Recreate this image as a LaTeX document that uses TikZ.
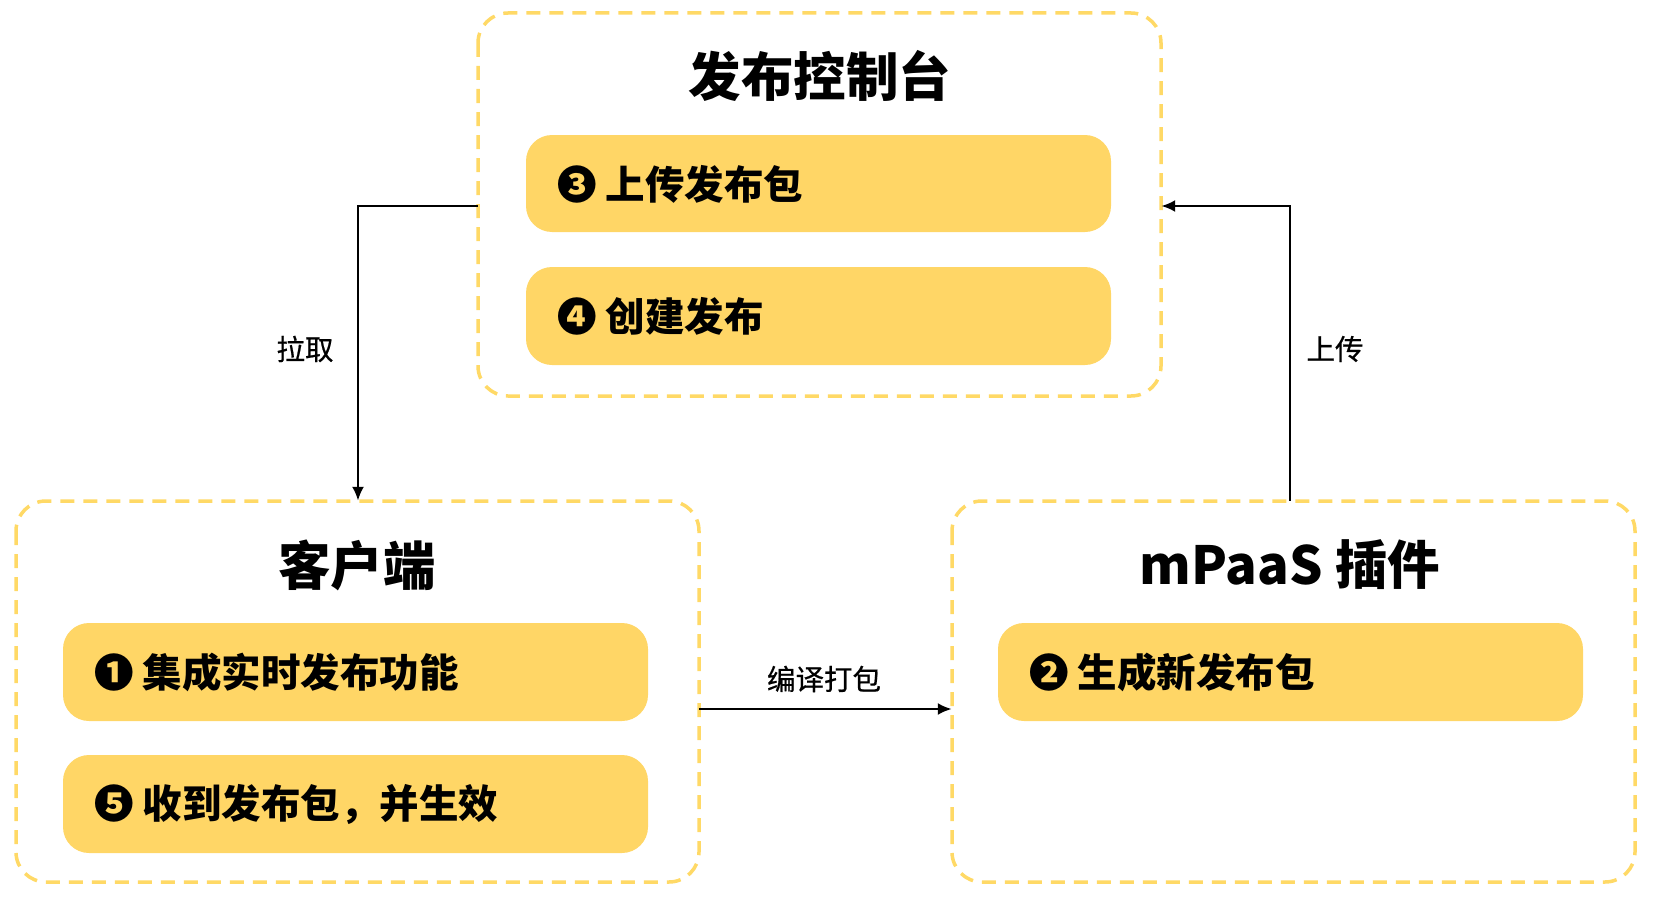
\documentclass[tikz,border=0pt]{standalone}
\usepackage{fontspec}
\setmainfont{Noto Sans CJK SC}
\newfontfamily\cjk{Noto Sans CJK SC}
\newfontfamily\cjklab{Noto Sans CJK SC}[FakeBold=0.6]
\usetikzlibrary{arrows.meta,positioning}
\definecolor{ygold}{HTML}{FFD666}
\definecolor{ydash}{HTML}{FFD966}
\tikzset{
  groupbox/.style={draw=ydash, line width=3.5pt, dash pattern=on 14pt off 9pt, rounded corners=30pt},
  itembox/.style={fill=ygold, rounded corners=26pt},
  titletxt/.style={font=\cjk\bfseries\fontsize{52.5pt}{58pt}\selectfont, inner sep=0pt},
  itemtxt/.style={font=\cjk\bfseries\fontsize{39.5pt}{44pt}\selectfont, inner sep=0pt, anchor=west},
  labeltxt/.style={font=\cjklab\fontsize{28.5pt}{33pt}\selectfont, inner sep=0pt},
  conn/.style={line width=2.4pt, -{Latex[length=14pt,width=12pt]}}
}
\begin{document}
\begin{tikzpicture}[x=1pt,y=-1pt]
\useasboundingbox (0,0) rectangle (1655,899);
% group boxes
\draw[groupbox] (478,13) rectangle (1161,396);
\draw[groupbox] (16,501) rectangle (699,882);
\draw[groupbox] (952,501) rectangle (1635,882);
\node[minimum width=683pt, minimum height=383pt, inner sep=0pt] (console) at (819.5,204.5) {};
\node[minimum width=683pt, minimum height=381pt, inner sep=0pt] (client) at (357.5,691.5) {};
\node[minimum width=683pt, minimum height=381pt, inner sep=0pt] (plugin) at (1293.5,691.5) {};
% titles
\node[titletxt] (t-console) at (820,76) {发布控制台};
\node[titletxt] (t-client) at (357,565) {客户端};
\node[titletxt] (t-plugin) at (1290,565) {mPaaS 插件};
% items
\fill[itembox] (526,135) rectangle (1111,232);
\fill[itembox] (526,267) rectangle (1111,365);
\fill[itembox] (63,623) rectangle (648,721);
\fill[itembox] (63,755) rectangle (648,853);
\fill[itembox] (998,623) rectangle (1583,721);
\node[itemtxt] (i3) at (557,184) {❸ 上传发布包};
\node[itemtxt] (i4) at (557,316) {❹ 创建发布};
\node[itemtxt] (i1) at (94,672) {❶ 集成实时发布功能};
\node[itemtxt] (i5) at (94,804) {❺ 收到发布包，并生效};
\node[itemtxt] (i2) at (1029,672) {❷ 生成新发布包};
% connectors
\coordinate (pullstart) at (console.west |- 0,206);
\draw[conn] (pullstart) -| (client.north -| 358,0);
\coordinate (upend) at (console.east |- 0,206);
\draw[conn] (plugin.north -| 1290,0) |- (upend);
\draw[conn] (client.east |- 0,709) -- (plugin.west |- 0,709);
% labels
\node[labeltxt] (l-pull) at (305,349) {拉取};
\node[labeltxt] (l-up) at (1335,349) {上传};
\node[labeltxt] (l-build) at (824,679) {编译打包};
\end{tikzpicture}
\end{document}
